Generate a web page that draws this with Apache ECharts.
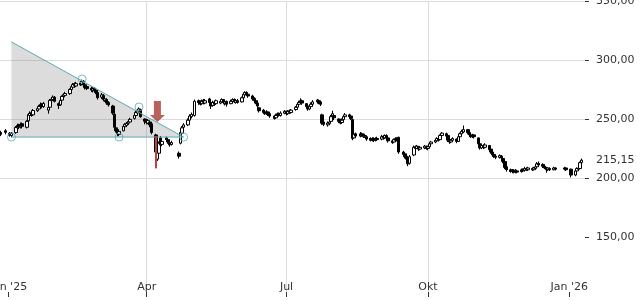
<!DOCTYPE html>
<html><head><meta charset="utf-8">
<script src="https://cdn.jsdelivr.net/npm/echarts@6/dist/echarts.min.js"></script>
<style>html,body{margin:0;padding:0;background:#fff}#c{width:640px;height:300px}</style>
</head><body><div id="c"></div>
<script>
const dates = [
'2024-12-27','2024-12-30',
'2025-01-02','2025-01-03',
'2025-01-06','2025-01-07','2025-01-08','2025-01-09','2025-01-10',
'2025-01-13','2025-01-14','2025-01-15','2025-01-16','2025-01-17',
'2025-01-20','2025-01-21','2025-01-22','2025-01-23','2025-01-24',
'2025-01-27','2025-01-28','2025-01-29','2025-01-30','2025-01-31',
'2025-02-03','2025-02-04','2025-02-05','2025-02-06','2025-02-07',
'2025-02-10','2025-02-11','2025-02-12','2025-02-13','2025-02-14',
'2025-02-17','2025-02-18','2025-02-19','2025-02-20','2025-02-21',
'2025-02-24','2025-02-25','2025-02-26','2025-02-27','2025-02-28',
'2025-03-03','2025-03-04','2025-03-05','2025-03-06','2025-03-07',
'2025-03-10','2025-03-11','2025-03-12','2025-03-13','2025-03-14',
'2025-03-17','2025-03-18','2025-03-19','2025-03-20','2025-03-21',
'2025-03-24','2025-03-25','2025-03-26','2025-03-27','2025-03-28',
'2025-03-31',
'2025-04-01','2025-04-02','2025-04-03','2025-04-04',
'2025-04-07','2025-04-08','2025-04-09','2025-04-10','2025-04-11',
'2025-04-14','2025-04-15','2025-04-16','2025-04-17',
'2025-04-22','2025-04-23','2025-04-24','2025-04-25',
'2025-04-28','2025-04-29','2025-04-30',
'2025-05-02',
'2025-05-05','2025-05-06','2025-05-07','2025-05-08','2025-05-09',
'2025-05-12','2025-05-13','2025-05-14','2025-05-15','2025-05-16',
'2025-05-19','2025-05-20','2025-05-21','2025-05-22','2025-05-23',
'2025-05-26','2025-05-27','2025-05-28','2025-05-29','2025-05-30',
'2025-06-02','2025-06-03','2025-06-04','2025-06-05','2025-06-06',
'2025-06-09','2025-06-10','2025-06-11','2025-06-12','2025-06-13',
'2025-06-16','2025-06-17','2025-06-18','2025-06-19','2025-06-20',
'2025-06-23','2025-06-24','2025-06-25','2025-06-26','2025-06-27',
'2025-06-30',
'2025-07-01','2025-07-02','2025-07-03','2025-07-04',
'2025-07-07','2025-07-08','2025-07-09','2025-07-10','2025-07-11',
'2025-07-14','2025-07-15','2025-07-16','2025-07-17','2025-07-18',
'2025-07-21','2025-07-22','2025-07-23','2025-07-24','2025-07-25',
'2025-07-28','2025-07-29','2025-07-30','2025-07-31',
'2025-08-01',
'2025-08-04','2025-08-05','2025-08-06','2025-08-07','2025-08-08',
'2025-08-11','2025-08-12','2025-08-13','2025-08-14','2025-08-15',
'2025-08-18','2025-08-19','2025-08-20','2025-08-21','2025-08-22',
'2025-08-25','2025-08-26','2025-08-27','2025-08-28','2025-08-29',
'2025-09-01','2025-09-02','2025-09-03','2025-09-04','2025-09-05',
'2025-09-08','2025-09-09','2025-09-10','2025-09-11','2025-09-12',
'2025-09-15','2025-09-16','2025-09-17','2025-09-18','2025-09-19',
'2025-09-22','2025-09-23','2025-09-24','2025-09-25','2025-09-26',
'2025-09-29','2025-09-30',
'2025-10-01','2025-10-02','2025-10-03',
'2025-10-06','2025-10-07','2025-10-08','2025-10-09','2025-10-10',
'2025-10-13','2025-10-14','2025-10-15','2025-10-16','2025-10-17',
'2025-10-20','2025-10-21','2025-10-22','2025-10-23','2025-10-24',
'2025-10-27','2025-10-28','2025-10-29','2025-10-30','2025-10-31',
'2025-11-03','2025-11-04','2025-11-05','2025-11-06','2025-11-07',
'2025-11-10','2025-11-11','2025-11-12','2025-11-13','2025-11-14',
'2025-11-17','2025-11-18','2025-11-19','2025-11-20','2025-11-21',
'2025-11-24','2025-11-25','2025-11-26','2025-11-27','2025-11-28',
'2025-12-01','2025-12-02','2025-12-03','2025-12-04','2025-12-05',
'2025-12-08','2025-12-09','2025-12-10','2025-12-11','2025-12-12',
'2025-12-15','2025-12-16','2025-12-17','2025-12-18','2025-12-19',
'2025-12-22','2025-12-23',
'2025-12-29','2025-12-30',
'2026-01-02',
'2026-01-05','2026-01-06','2026-01-07','2026-01-08','2026-01-09'
];

// [open, close, low, high]
const candles = [
[238.5,237.0,235.5,240.0],[240.0,238.7,237.0,241.5],
[238.0,236.2,235.0,239.0],[236.0,237.9,234.5,239.0],
[238.5,242.9,237.5,244.0],[242.5,244.6,241.5,246.0],[245.0,243.2,241.5,246.0],[243.0,245.4,242.0,247.0],[246.0,243.8,242.0,247.0],
[243.0,248.0,242.0,249.0],[248.5,253.9,247.5,255.0],[253.0,254.7,252.0,256.5],[255.5,253.5,252.0,257.0],[253.5,257.2,252.5,258.5],
[257.0,258.9,256.0,260.5],[258.5,260.6,257.5,262.0],[260.5,262.3,259.5,264.0],[262.5,260.6,259.0,263.5],[260.5,263.2,259.5,264.5],
[257.5,259.8,254.5,261.0],[260.0,265.8,259.0,267.0],[265.5,266.9,264.0,268.5],[266.5,268.5,265.5,270.0],[268.5,265.0,264.0,269.5],
[263.0,261.5,258.5,264.0],[262.0,265.7,261.0,267.0],[266.0,269.1,265.0,270.0],[269.0,270.7,268.0,272.0],[270.0,271.6,268.5,273.0],
[271.5,275.0,270.5,276.0],[275.0,277.5,274.0,278.5],[277.0,279.2,276.0,280.5],[280.0,278.3,276.5,281.0],[278.0,280.0,277.0,281.5],
[280.5,279.0,278.0,282.0],[279.5,281.7,278.5,283.4],[282.0,278.8,277.5,283.0],[279.0,276.6,275.0,279.5],[277.5,275.8,274.5,279.0],
[276.0,274.5,273.0,277.5],[274.0,275.5,272.5,277.0],[276.0,274.0,272.5,277.0],[274.5,272.5,271.0,275.5],[272.5,268.0,266.5,273.0],
[268.5,270.5,267.0,272.0],[270.0,266.5,265.0,271.0],[265.5,267.0,264.5,268.5],[266.5,263.5,262.0,267.5],[264.0,262.0,260.5,265.0],
[261.0,255.0,253.5,262.0],[254.0,243.0,241.5,255.0],[242.5,240.0,238.5,244.0],[241.0,237.5,235.3,242.0],[237.0,239.5,235.5,241.0],
[240.0,243.8,239.5,245.0],[243.5,245.4,242.5,246.5],[244.5,246.3,243.5,247.5],[246.5,248.0,245.0,249.5],[247.5,249.7,246.5,251.0],
[250.5,253.0,249.5,254.5],[253.0,255.6,252.5,257.0],[255.0,257.2,254.0,258.5],[256.5,258.5,255.5,259.8],[258.0,252.0,251.0,258.5],
[250.0,248.0,245.5,250.5],
[249.0,247.1,245.5,250.0],[246.5,248.8,245.5,250.0],[247.5,245.0,243.0,248.0],[246.0,238.5,237.0,246.5],
[236.5,222.0,208.3,237.5],[216.0,223.5,214.5,225.0],[221.0,229.5,218.5,231.0],[234.0,228.0,226.0,235.5],[228.5,231.0,227.0,232.5],
[234.0,232.5,231.0,235.0],[232.5,230.5,229.0,233.5],[230.0,228.0,226.5,231.0],[228.5,230.0,227.5,231.5],
[221.0,218.5,216.5,222.5],[229.5,238.5,228.5,240.0],[238.0,242.5,237.0,244.0],[243.0,245.0,241.5,246.5],
[245.0,249.0,244.0,250.5],[249.0,252.5,248.5,254.0],[252.0,254.0,250.5,255.5],
[253.0,265.0,252.0,266.5],
[265.5,264.0,262.0,266.5],[264.5,262.5,261.5,265.5],[263.0,265.0,262.0,266.5],[266.0,264.0,262.5,267.0],[263.5,265.5,262.5,267.0],
[267.0,264.0,262.5,268.0],[264.0,261.0,258.5,264.5],[261.5,264.0,260.5,265.5],[264.5,262.5,261.5,265.5],[263.0,265.5,262.0,266.5],
[263.5,265.0,262.5,266.0],[264.5,266.5,263.5,267.5],[266.5,264.0,262.5,267.0],[263.0,264.5,261.5,265.5],[265.0,262.5,260.5,265.5],
[263.0,265.0,262.5,266.5],[265.0,266.5,264.0,267.5],[266.5,264.5,263.5,267.5],[264.0,265.5,263.0,266.5],[265.5,264.0,263.0,267.0],
[264.5,268.0,264.0,269.0],[268.0,271.0,267.5,272.0],[270.5,272.5,270.0,273.5],[272.5,270.5,269.5,273.5],[271.0,269.5,268.0,272.0],
[269.5,267.0,265.5,270.5],[267.5,265.5,264.5,268.5],[265.5,263.5,262.5,266.5],[263.5,261.0,259.5,264.0],[259.5,257.0,255.5,260.0],
[257.5,255.5,254.5,258.5],[256.0,254.5,253.5,257.0],[254.5,256.0,253.5,257.5],[256.0,254.0,252.5,256.5],[254.5,252.5,251.0,255.5],
[252.5,250.5,249.5,253.5],[251.0,253.0,250.0,254.5],[253.0,254.5,252.0,255.5],[254.5,253.0,252.0,255.5],[253.0,255.0,252.0,256.5],
[255.0,256.5,254.0,257.5],
[256.5,254.5,253.0,257.0],[254.5,256.5,253.5,257.5],[257.0,255.5,254.5,258.0],[255.5,257.5,254.5,258.5],
[258.0,260.0,257.0,261.0],[260.0,262.5,259.5,263.5],[262.5,264.0,261.5,265.5],[264.0,265.5,263.0,267.5],[265.5,263.5,262.0,266.5],
[263.0,260.5,259.0,263.5],[261.0,258.5,257.0,261.5],[258.5,260.5,257.5,261.5],[260.5,262.5,259.5,264.0],[262.5,264.5,261.5,266.0],
[264.5,266.0,263.0,267.0],[265.5,264.0,262.5,266.5],[264.5,262.5,261.0,265.0],[253.5,246.5,245.0,254.5],[247.5,245.5,244.0,248.5],
[245.0,246.5,243.5,248.0],[246.0,247.5,245.0,249.0],[248.0,252.0,247.0,253.5],[252.0,254.5,251.0,257.0],
[253.0,251.0,249.0,253.5],
[250.0,248.0,246.5,250.5],[248.5,246.5,245.5,249.5],[247.0,249.0,246.0,250.5],[249.5,252.0,248.5,253.5],[252.0,253.5,251.0,255.0],
[253.5,252.0,250.5,254.5],[252.5,250.5,249.0,253.0],[249.5,233.5,232.0,250.0],[234.0,237.0,233.5,238.5],[237.5,235.5,234.5,238.5],
[235.5,237.5,234.5,239.0],[237.5,236.0,235.0,238.5],[236.5,235.0,234.0,237.5],[235.0,236.0,234.0,237.5],[235.0,233.0,231.5,235.5],
[233.5,232.0,231.0,234.5],[232.0,233.5,231.0,234.5],[233.5,232.0,230.5,234.5],[232.0,233.5,231.0,234.5],[233.5,232.5,231.5,235.0],
[233.0,235.0,232.0,236.5],[235.5,234.0,232.5,236.0],[234.0,236.0,233.0,237.0],[236.0,234.0,233.0,237.0],[234.0,231.5,230.0,235.0],
[231.5,230.0,229.0,232.5],[230.5,232.5,229.5,233.5],[232.0,233.5,231.5,234.5],[233.5,232.0,231.0,234.5],[234.5,222.0,220.5,235.0],
[222.0,220.0,218.5,223.0],[220.5,218.0,216.5,221.0],[218.5,216.0,214.5,219.0],[216.5,212.0,210.0,217.0],[212.5,218.0,211.5,219.5],
[219.5,226.0,218.5,227.5],[226.5,225.0,224.0,227.5],[225.0,227.0,224.5,228.0],[226.5,224.5,223.0,227.0],[224.5,226.0,223.5,227.0],
[225.5,227.0,224.5,228.0],[226.5,225.0,224.0,227.5],
[225.0,226.5,223.5,227.5],[226.5,229.0,225.5,230.5],[229.0,230.5,228.0,231.5],
[230.5,232.0,229.5,233.0],[231.5,233.5,231.0,234.5],[233.5,232.0,231.0,234.5],[232.5,236.0,232.0,237.0],[236.0,238.0,235.0,239.0],
[237.5,235.5,234.5,238.5],[236.0,232.0,230.5,236.5],[232.0,230.5,229.0,233.5],[230.5,232.0,229.5,233.0],[232.0,233.5,231.0,234.5],
[233.0,231.0,229.5,233.5],[231.0,235.0,230.5,236.0],[235.0,237.5,234.0,238.5],[237.5,239.5,236.5,241.0],[239.0,241.0,238.0,244.5],
[241.0,238.5,237.0,241.5],[238.5,236.5,235.0,239.0],[236.5,235.0,234.0,237.5],[235.0,236.5,234.0,237.5],[236.5,235.0,233.5,237.0],
[234.0,229.0,227.5,234.5],[229.0,225.5,224.0,229.5],[225.5,227.5,224.5,228.5],[227.5,226.0,224.5,228.5],[226.0,228.0,225.0,229.5],
[227.5,224.0,222.5,228.0],[224.5,222.0,220.5,225.0],[222.0,219.5,218.0,223.0],[220.0,218.5,217.0,220.5],[218.5,217.5,216.0,219.5],
[217.5,219.0,216.5,220.0],[218.5,217.0,216.0,219.5],[216.5,214.0,212.5,217.0],[214.0,209.0,207.5,214.5],[209.5,207.0,205.5,210.5],
[207.0,205.5,204.5,208.0],[205.5,206.5,204.0,207.5],[206.5,205.0,204.0,207.5],[205.0,206.5,204.0,207.5],[206.0,205.0,204.0,207.0],
[205.5,207.0,204.5,208.0],[207.5,206.0,205.0,208.0],[206.5,208.0,205.5,209.5],[208.0,207.0,206.0,209.0],[207.0,208.5,206.0,209.5],
[208.0,207.0,206.0,209.0],[207.0,208.5,206.5,209.5],[208.0,209.5,207.5,210.5],[209.5,212.0,209.0,213.5],[212.5,211.0,210.0,214.0],
[211.5,210.0,208.5,212.5],[210.0,208.5,207.5,211.0],[208.5,207.0,204.5,209.5],[207.0,208.5,206.0,209.0],[208.0,207.0,206.0,209.0],
[207.0,208.5,206.5,209.5],[208.5,207.5,206.5,209.0],
[207.5,208.5,206.5,209.5],[208.5,207.0,206.0,209.0],
[207.5,202.5,200.5,208.0],
[202.5,206.0,201.5,207.0],[206.0,208.0,205.0,209.0],[208.5,207.5,206.5,209.5],[208.0,213.0,207.5,214.0],[213.0,215.15,212.0,216.5]
];

const tickDates = ['2025-01-01','2025-04-01','2025-07-01','2025-10-01','2026-01-01'];
const tickLabels = ["Jan '25", 'Apr', 'Jul', 'Okt', "Jan '26"];
const priceTicks = [150, 200, 250, 300, 350];
const lastPrice = 215.15;

// chart pattern annotation (triangle) and its pivot points
const patternTop = [['2025-01-03', 315.3], ['2025-04-25', 234.7]];
const patternBase = [['2025-01-03', 234.7], ['2025-04-25', 234.7]];
const pivots = [['2025-01-03', 234.7], ['2025-02-18', 283.9], ['2025-03-14', 234.7], ['2025-03-27', 260.2], ['2025-04-25', 234.7]];
const signalDate = '2025-04-07';
const signalArrowPrice = 256.4;

const ts = s => { const p = s.split('-').map(Number); return new Date(p[0], p[1] - 1, p[2]).getTime(); };
const tickTs = tickDates.map(ts);
const fmtDE = v => v.toFixed(2).replace('.', ',');
const TEAL = '#5ea8b2';
const LABEL_FONT = { color: '#333', fontSize: 11, fontFamily: 'DejaVu Sans' };

const n = Math.min(dates.length, candles.length);
const candleData = [];
for (let i = 0; i < n; i++) {
  candleData.push([ts(dates[i])].concat(candles[i]));
}
const sigIdx = dates.indexOf(signalDate);
const sig = candles[sigIdx];

const chart = echarts.init(document.getElementById('c'), null, { renderer: 'canvas' });
chart.setOption({
  animation: false,
  backgroundColor: '#fff',
  grid: { left: 0, right: 55, top: 1, bottom: 8, containLabel: false, outerBoundsMode: 'none' },
  xAxis: {
    type: 'value',
    min: new Date(2024, 11, 26, 13).getTime(),
    max: new Date(2026, 0, 11, 5).getTime(),
    axisLine: { show: false },
    axisTick: { show: true, length: 5, lineStyle: { color: '#333' }, customValues: tickTs },
    axisLabel: Object.assign({
      customValues: tickTs, inside: true, verticalAlign: 'middle', margin: 5,
      formatter: v => { const k = tickTs.findIndex(t => Math.abs(t - v) < 43200000); return k >= 0 ? tickLabels[k] : ''; }
    }, LABEL_FONT),
    splitLine: { show: true, showMinLine: false, showMaxLine: false, lineStyle: { color: '#dcdcdc', width: 1 } }
  },
  yAxis: {
    type: 'value', position: 'right', min: 103.4, max: 350,
    axisLine: { show: false },
    axisTick: { show: true, length: 4, lineStyle: { color: '#333' }, customValues: priceTicks },
    axisLabel: Object.assign({ customValues: priceTicks.concat([lastPrice]), margin: 11, formatter: v => fmtDE(v) }, LABEL_FONT),
    splitLine: { show: true, showMinLine: false, lineStyle: { color: '#dcdcdc', width: 1 } }
  },
  series: [
    {
      type: 'custom', z: 1, silent: true,
      data: [[ts(patternTop[0][0]), patternTop[0][1]]],
      encode: { x: 0, y: 1 },
      renderItem: (params, api) => {
        const a = api.coord([ts(patternTop[0][0]), patternTop[0][1]]);
        const b = api.coord([ts(patternTop[1][0]), patternTop[1][1]]);
        const c = api.coord([ts(patternBase[0][0]), patternBase[0][1]]);
        return { type: 'polygon', shape: { points: [a, b, c] }, style: { fill: 'rgba(120,120,120,0.26)' } };
      }
    },
    {
      type: 'candlestick', z: 3,
      barWidth: 3,
      encode: { x: 0, y: [1, 2, 3, 4] },
      data: candleData,
      itemStyle: { color: '#fff', color0: '#000', borderColor: '#000', borderColor0: '#000', borderWidth: 1 },
      markLine: {
        silent: true, symbol: 'none', animation: false,
        label: { show: false },
        lineStyle: { color: '#b8453d', width: 2, type: 'solid' },
        data: [[{ coord: [ts(signalDate), sig[2]] }, { coord: [ts(signalDate), sig[0] - 1] }]]
      }
    },
    {
      type: 'line', z: 4, symbol: 'none', silent: true,
      data: patternTop.map(p => [ts(p[0]), p[1]]),
      lineStyle: { color: TEAL, width: 1 }
    },
    {
      type: 'line', z: 4, symbol: 'none', silent: true,
      data: patternBase.map(p => [ts(p[0]), p[1]]),
      lineStyle: { color: TEAL, width: 1 }
    },
    {
      type: 'scatter', z: 5, silent: true,
      symbol: 'circle', symbolSize: 8,
      data: pivots.map(p => [ts(p[0]), p[1]]),
      itemStyle: { color: 'rgba(0,0,0,0)', borderColor: TEAL, borderWidth: 1 }
    },
    {
      type: 'scatter', z: 6, silent: true,
      symbol: 'path://M4,0 L11,0 L11,14 L15,14 L7.5,21 L0,14 L4,14 Z',
      symbolSize: [15, 21], symbolOffset: [1.5, 0],
      data: [[ts(signalDate), signalArrowPrice]],
      itemStyle: { color: '#a83a32' }
    }
  ]
});
</script>
</body></html>
